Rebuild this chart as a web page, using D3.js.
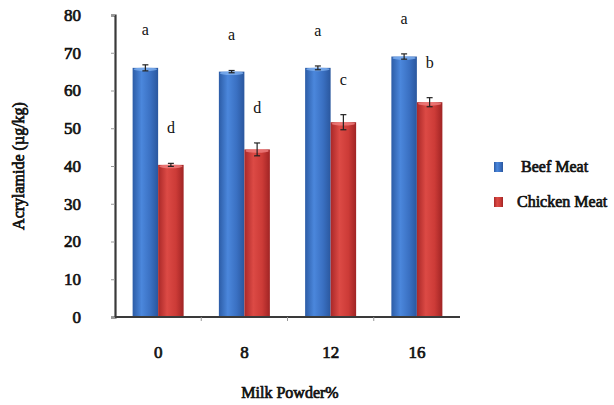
<!DOCTYPE html>
<html>
<head>
<meta charset="utf-8">
<script src="https://cdn.jsdelivr.net/npm/d3@7"></script>
<style>
  body { margin: 0; background: #fff; }
  svg text { font-family: "Liberation Serif", "Times New Roman", serif !important; font-weight: normal; fill: #111; }
  svg text.bold { stroke: #111; stroke-width: 0.7px; }
</style>
</head>
<body>
<svg id="chart" width="614" height="405"></svg>
<script>
//------------------------------------------------------------------------------
//Data
//------------------------------------------------------------------------------
let categories = ["0", "8", "12", "16"];
let seriesNames = ["Beef Meat", "Chicken Meat"];
let beefValues = [66.0, 65.0, 66.0, 69.0];
let beefErrors = [0.8, 0.3, 0.5, 0.7];
let beefLetters = ["a", "a", "a", "a"];
let chickenValues = [40.3, 44.4, 51.6, 56.9];
let chickenErrors = [0.4, 1.7, 2.0, 1.2];
let chickenLetters = ["d", "d", "c", "b"];
let yTicks = [0, 10, 20, 30, 40, 50, 60, 70, 80];

main()

//------------------------------------------------------------------------------
//Main
//------------------------------------------------------------------------------
function main()
{
    var svg = d3.select("#chart");
    var left = 115, right = 460, top = 15, bottom = 317;

    var x = d3.scaleBand().domain(categories).range([left, right]);
    var y = d3.scaleLinear().domain([0, 80]).range([bottom, top]);
    var barW = 25.5;

    // gradients for the bars
    var defs = svg.append("defs");
    addGradient(defs, "gBlue", ["#2c5ca6", "#4b87dc", "#3a70c2", "#2a579e"]);
    addGradient(defs, "gRed", ["#a92828", "#dc4a45", "#cc3b37", "#a02424"]);

    var series = [
        {name: seriesNames[0], values: beefValues, errors: beefErrors, letters: beefLetters, fill: "url(#gBlue)", cap: "#7fb0f0", off: -1},
        {name: seriesNames[1], values: chickenValues, errors: chickenErrors, letters: chickenLetters, fill: "url(#gRed)", cap: "#f08080", off: 0}
    ];

    series.forEach(s => {
        var g = svg.append("g");
        var data = categories.map((c, i) => ({c: c, v: s.values[i], e: s.errors[i], l: s.letters[i]}));
        var bx = d => x(d.c) + x.bandwidth() / 2 + s.off * barW;

        g.selectAll("rect.bar").data(data).enter().append("rect")
            .attr("class", "bar")
            .attr("x", bx)
            .attr("y", d => y(d.v))
            .attr("width", barW)
            .attr("height", d => y(0) - y(d.v))
            .attr("fill", s.fill);

        // light top cap
        g.selectAll("ellipse").data(data).enter().append("ellipse")
            .attr("cx", d => bx(d) + barW / 2)
            .attr("cy", d => y(d.v) + 1.5)
            .attr("rx", barW / 2 - 1)
            .attr("ry", 1.8)
            .attr("fill", s.cap)
            .attr("opacity", 0.8);

        // error bars
        var eb = g.selectAll("g.err").data(data).enter().append("g").attr("class", "err");
        eb.append("line")
            .attr("x1", d => bx(d) + barW / 2).attr("x2", d => bx(d) + barW / 2)
            .attr("y1", d => y(d.v + d.e)).attr("y2", d => y(d.v - d.e))
            .attr("stroke", "#222").attr("stroke-width", 1.2);
        [1, -1].forEach(sign => {
            eb.append("line")
                .attr("x1", d => bx(d) + barW / 2 - 3).attr("x2", d => bx(d) + barW / 2 + 3)
                .attr("y1", d => y(d.v + sign * d.e)).attr("y2", d => y(d.v + sign * d.e))
                .attr("stroke", "#222").attr("stroke-width", 1.2);
        });

        // significance letters
        g.selectAll("text.letter").data(data).enter().append("text")
            .attr("class", "letter")
            .attr("x", d => bx(d) + barW / 2)
            .attr("y", d => y(d.v + d.e) - 30)
            .attr("text-anchor", "middle")
            .style("font-size", "16px")
            .text(d => d.l);
    });

    // y axis
    var yAxis = d3.axisLeft(y).tickValues(yTicks).tickSize(4).tickPadding(30);
    var ya = svg.append("g").attr("transform", "translate(" + left + ",0)").call(yAxis);
    ya.select(".domain").attr("stroke", "#3a3a3a").attr("stroke-width", 2.2);
    ya.selectAll(".tick line").attr("stroke", "#999");
    ya.selectAll(".tick text").attr("class", "bold").style("font-size", "17px").attr("fill", "#111");

    // x axis
    var xa = svg.append("g").attr("transform", "translate(0," + bottom + ")");
    xa.append("line").attr("x1", left).attr("x2", right).attr("y1", 0).attr("y2", 0)
        .attr("stroke", "#3a3a3a").attr("stroke-width", 2.2);
    xa.selectAll("line.tk").data(categories.slice(1)).enter().append("line")
        .attr("class", "tk")
        .attr("x1", d => x(d)).attr("x2", d => x(d))
        .attr("y1", 0).attr("y2", 4).attr("stroke", "#999");
    xa.selectAll("text").data(categories).enter().append("text")
        .attr("class", "bold")
        .attr("x", d => x(d) + x.bandwidth() / 2)
        .attr("y", 41)
        .attr("text-anchor", "middle")
        .style("font-size", "17px")
        .text(d => d);

    // axis titles
    svg.append("text")
        .attr("class", "bold")
        .attr("x", 290).attr("y", 398)
        .attr("text-anchor", "middle")
        .style("font-size", "16px")
        .text("Milk Powder%");
    svg.append("text")
        .attr("class", "bold")
        .attr("transform", "translate(24,166) rotate(-90)")
        .attr("text-anchor", "middle")
        .style("font-size", "16px")
        .text("Acrylamide (µg/kg)");

    // legend
    var lg = svg.append("g");
    var legendColors = ["url(#gBlue)", "url(#gRed)"];
    var ly = d3.scalePoint().domain(seriesNames).range([167, 202]);
    lg.selectAll("rect").data(seriesNames).enter().append("rect")
        .attr("x", 494).attr("y", d => ly(d) - 5)
        .attr("width", 9).attr("height", 10)
        .attr("fill", (d, i) => legendColors[i]);
    lg.selectAll("text").data(seriesNames).enter().append("text")
        .attr("class", "bold")
        .attr("x", (d, i) => i == 0 ? 521 : 517)
        .attr("y", d => ly(d) + 5)
        .style("font-size", "16px")
        .text(d => d);
}

//------------------------------------------------------------------------------
//Helpers
//------------------------------------------------------------------------------
function addGradient(defs, id, colors)
{
    var grad = defs.append("linearGradient").attr("id", id)
        .attr("x1", "0%").attr("x2", "100%").attr("y1", "0%").attr("y2", "0%");
    var stops = [0, 0.35, 0.7, 1];
    colors.forEach((c, i) => {
        grad.append("stop").attr("offset", stops[i] * 100 + "%").attr("stop-color", c);
    });
}
</script>
</body>
</html>
